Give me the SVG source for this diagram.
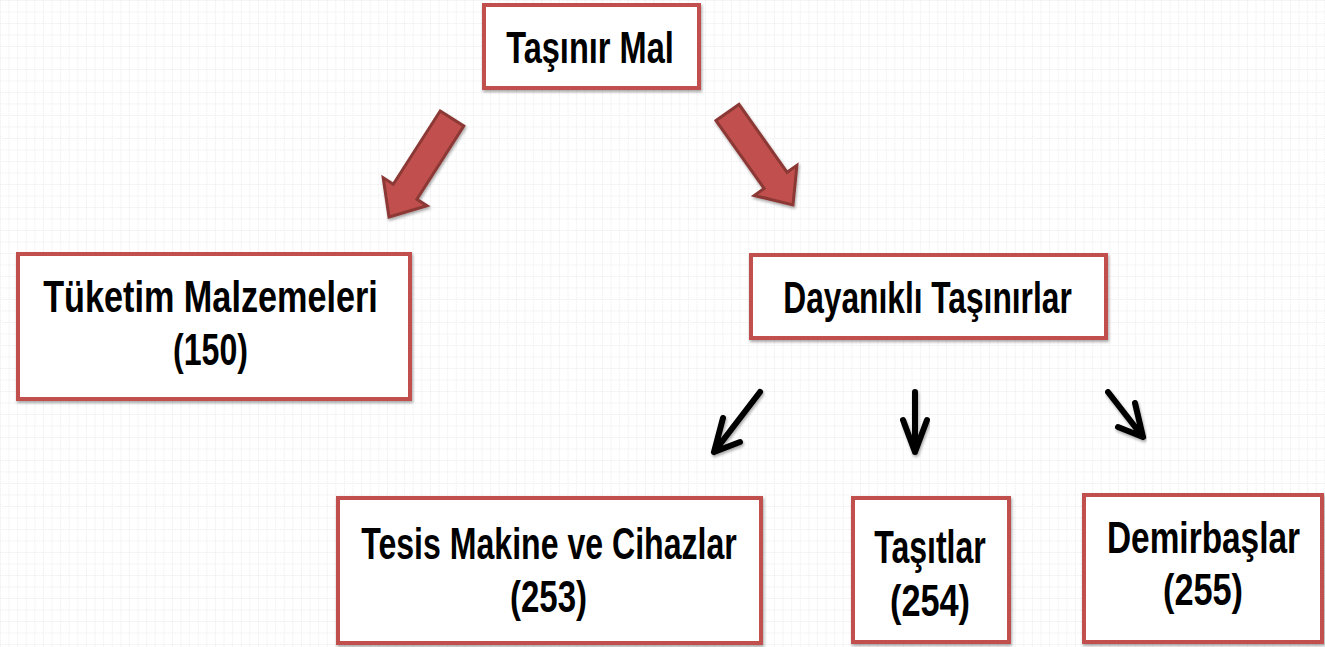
<svg xmlns="http://www.w3.org/2000/svg" width="1325" height="647" viewBox="0 0 1325 647">
  <defs>
    <pattern id="grid" width="8.6" height="11.5" patternUnits="userSpaceOnUse">
      <line x1="0.5" y1="0" x2="0.5" y2="11.5" stroke="#ebebeb" stroke-width="1" stroke-dasharray="1.2,1.2"/>
      <line x1="0" y1="0.5" x2="8.6" y2="0.5" stroke="#ebebeb" stroke-width="1" stroke-dasharray="1.2,1.2"/>
    </pattern>
    <filter id="sh" x="-10%" y="-10%" width="120%" height="130%">
      <feGaussianBlur in="SourceAlpha" stdDeviation="1.5"/>
      <feOffset dx="1" dy="2" result="b"/>
      <feComponentTransfer><feFuncA type="linear" slope="0.35"/></feComponentTransfer>
      <feMerge><feMergeNode/><feMergeNode in="SourceGraphic"/></feMerge>
    </filter>
  </defs>
  <style>
    .box { fill: #ffffff; stroke: #c0504d; stroke-width: 4; filter: url(#sh); }
    .lbl { font-family: "Liberation Sans", Arial, sans-serif; font-weight: bold; font-size: 44px; fill: #000000; text-anchor: middle; }
    .big { fill: #c0504d; stroke: #8c3836; stroke-width: 3; stroke-linejoin: miter; filter: url(#sh); }
    .small { fill: none; stroke: #000000; stroke-width: 6; stroke-linecap: round; stroke-linejoin: round; filter: url(#sh); }
  </style>
  <rect x="0" y="0" width="1325" height="647" fill="#ffffff"/>
  <rect x="0" y="0" width="1325" height="647" fill="url(#grid)"/>

  <g id="connectors">
    <polygon class="big" points="440.2,111.0 463.8,126.0 416.9,199.2 427.0,205.7 389,217 383.2,177.7 393.3,184.2"/>
    <polygon class="big" points="716.0,120.6 739.0,104.4 787.1,172.3 796.9,165.3 793,205 754.3,195.5 764.1,188.5"/>
    <path class="small" d="M760,392 L714,452 M723,418 L714,452 L740,442"/>
    <path class="small" d="M915,392 L915,452 M903,420 L915,452 L927,420"/>
    <path class="small" d="M1108,392 L1143,437 M1135,403 L1143,437 L1118,427"/>
  </g>

  <g id="tasinir-mal">
    <rect class="box" x="484" y="5" width="215" height="83"/>
    <text class="lbl" transform="translate(590,63) scale(0.74,1)">Taşınır Mal</text>
  </g>

  <g id="tuketim">
    <rect class="box" x="18" y="254" width="392" height="145"/>
    <text class="lbl" transform="translate(210.5,312) scale(0.778,1)">Tüketim Malzemeleri</text>
    <text class="lbl" transform="translate(210.5,365) scale(0.73,1)">(150)</text>
  </g>

  <g id="dayanikli">
    <rect class="box" x="751" y="255" width="355" height="83"/>
    <text class="lbl" transform="translate(927.5,313) scale(0.721,1)">Dayanıklı Taşınırlar</text>
  </g>

  <g id="tesis">
    <rect class="box" x="338" y="498" width="423" height="145"/>
    <text class="lbl" transform="translate(549,559) scale(0.729,1)">Tesis Makine ve Cihazlar</text>
    <text class="lbl" transform="translate(548.5,612) scale(0.75,1)">(253)</text>
  </g>

  <g id="tasitlar">
    <rect class="box" x="853" y="498" width="156" height="144"/>
    <text class="lbl" style="font-size:46px" transform="translate(930,563) scale(0.697,1)">Taşıtlar</text>
    <text class="lbl" transform="translate(930,616) scale(0.78,1)">(254)</text>
  </g>

  <g id="demirbaslar">
    <rect class="box" x="1084" y="495" width="238" height="147"/>
    <text class="lbl" transform="translate(1203.5,553) scale(0.759,1)">Demirbaşlar</text>
    <text class="lbl" transform="translate(1203,605) scale(0.78,1)">(255)</text>
  </g>
</svg>
